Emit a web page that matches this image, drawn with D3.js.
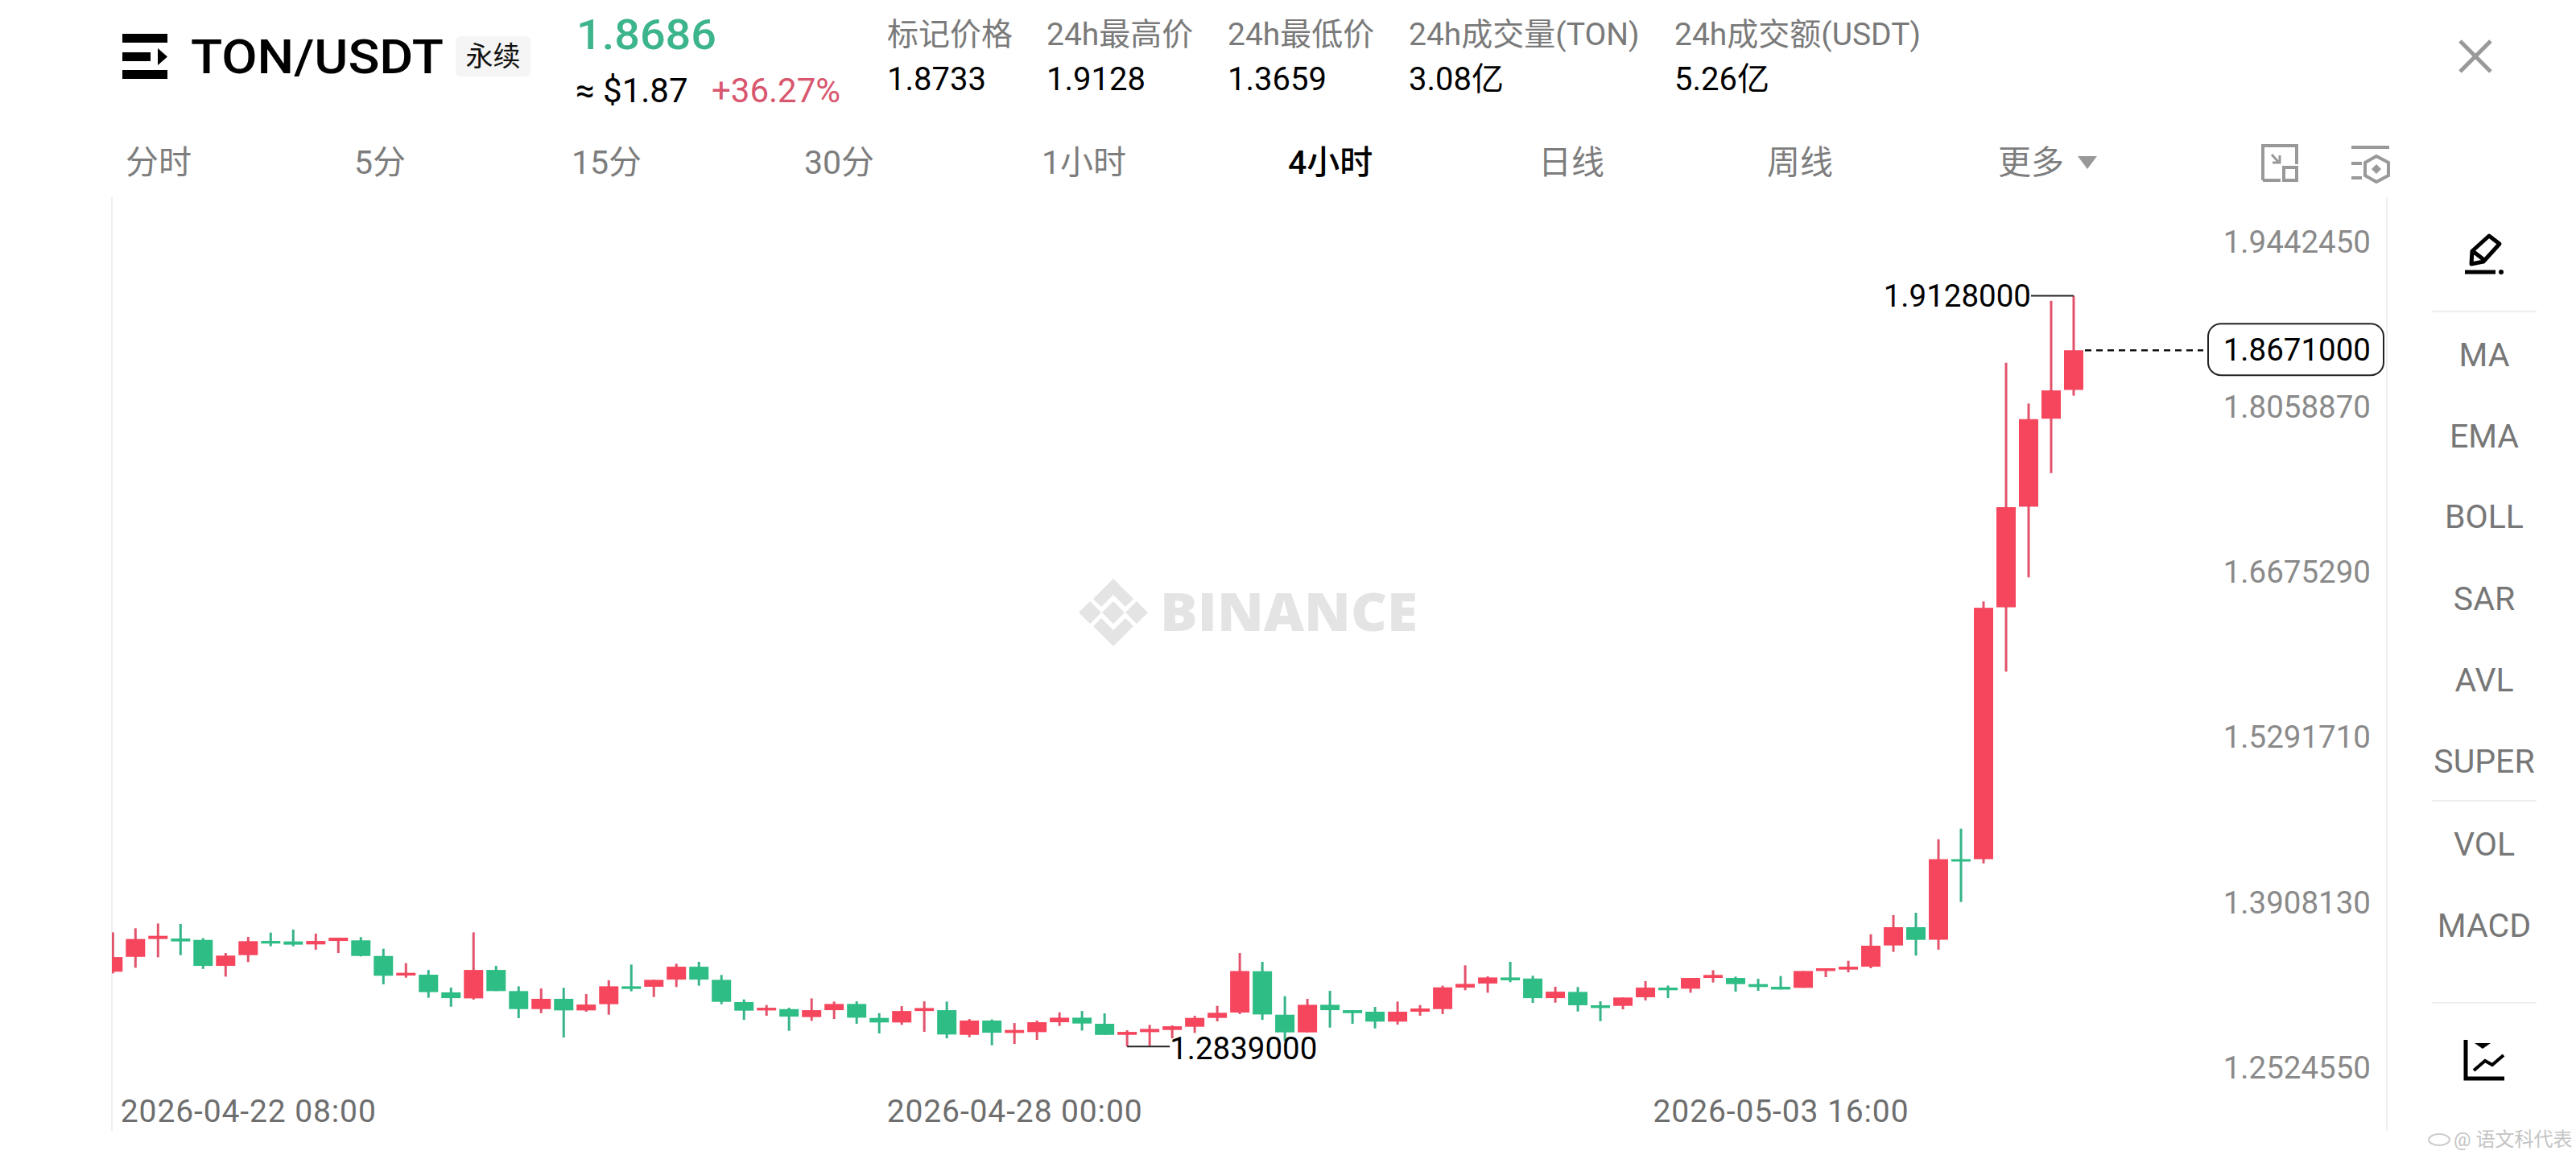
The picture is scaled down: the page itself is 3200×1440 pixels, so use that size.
<!DOCTYPE html>
<html><head><meta charset="utf-8">
<style>
html,body{margin:0;padding:0;background:#fff}
svg{display:block}
text{font-family:Roboto,"Noto Sans CJK SC",sans-serif}
</style>
<script src="https://cdn.jsdelivr.net/npm/d3@7/dist/d3.min.js"></script>
</head><body><div id="c"></div>
<script>
const opens=[1.3465,1.3590,1.3739,1.3743,1.3732,1.3514,1.3604,1.3723,1.3719,1.3694,1.3723,1.3728,1.3597,1.3433,1.3440,1.3292,1.3242,1.3480,1.3303,1.3152,1.3238,1.3141,1.3193,1.3343,1.3339,1.3399,1.3507,1.3397,1.3211,1.3141,1.3152,1.3085,1.3143,1.3195,1.3078,1.3040,1.3136,1.3143,1.2936,1.3056,1.2952,1.2959,1.3042,1.3080,1.3029,1.2936,1.2959,1.2977,1.3004,1.3078,1.3123,1.3469,1.3105,1.2957,1.3188,1.3143,1.3130,1.3047,1.3130,1.3152,1.3332,1.3366,1.3417,1.3408,1.3244,1.3296,1.3184,1.3179,1.3251,1.3332,1.3323,1.3413,1.3413,1.3361,1.3339,1.3330,1.3471,1.3483,1.3507,1.3685,1.3838,1.3733,1.4408,1.4408,1.6518,1.7361,1.8098,1.8339];
const highs=[1.3795,1.3829,1.3869,1.3865,1.3746,1.3622,1.3757,1.3793,1.3818,1.3784,1.3750,1.3755,1.3658,1.3537,1.3480,1.3332,1.3795,1.3514,1.3343,1.3325,1.3330,1.3278,1.3393,1.3525,1.3397,1.3532,1.3548,1.3438,1.3233,1.3186,1.3163,1.3242,1.3215,1.3217,1.3118,1.3177,1.3217,1.3215,1.3069,1.3065,1.3035,1.3056,1.3125,1.3136,1.3116,1.2975,1.3020,1.3015,1.3096,1.3179,1.3622,1.3548,1.3260,1.3238,1.3305,1.3143,1.3170,1.3215,1.3186,1.3348,1.3519,1.3426,1.3548,1.3431,1.3339,1.3337,1.3217,1.3249,1.3386,1.3350,1.3413,1.3478,1.3424,1.3406,1.3429,1.3471,1.3494,1.3557,1.3779,1.3939,1.3959,1.4575,1.4663,1.6567,1.8567,1.8225,1.9085,1.9128];
const lows=[1.3451,1.3498,1.3586,1.3604,1.3489,1.3424,1.3546,1.3678,1.3678,1.3649,1.3622,1.3593,1.3359,1.3415,1.3247,1.3172,1.3231,1.3303,1.3076,1.3118,1.2914,1.3130,1.3105,1.3301,1.3253,1.3337,1.3348,1.3193,1.3062,1.3096,1.2970,1.3053,1.3069,1.3029,1.2948,1.3020,1.2961,1.2907,1.2916,1.2849,1.2860,1.2894,1.3011,1.2972,1.2936,1.2839,1.2847,1.2907,1.2952,1.3049,1.3110,1.3062,1.2885,1.2957,1.2997,1.3029,1.2990,1.3022,1.3096,1.3110,1.3310,1.3289,1.3377,1.3204,1.3206,1.3132,1.3051,1.3150,1.3224,1.3244,1.3289,1.3375,1.3298,1.3305,1.3316,1.3330,1.3420,1.3460,1.3494,1.3631,1.3600,1.3650,1.4049,1.4373,1.5979,1.6769,1.7642,1.8291];
const closes=[1.3588,1.3739,1.3766,1.3719,1.3514,1.3600,1.3721,1.3701,1.3692,1.3723,1.3750,1.3597,1.3431,1.3456,1.3294,1.3244,1.3480,1.3303,1.3152,1.3238,1.3141,1.3190,1.3343,1.3321,1.3397,1.3507,1.3399,1.3213,1.3139,1.3163,1.3089,1.3143,1.3195,1.3080,1.3040,1.3136,1.3161,1.2939,1.3056,1.2954,1.2977,1.3042,1.3080,1.3031,1.2936,1.2961,1.2986,1.3008,1.3078,1.3121,1.3471,1.3107,1.2957,1.3188,1.3143,1.3118,1.3047,1.3130,1.3157,1.3334,1.3363,1.3417,1.3393,1.3244,1.3298,1.3184,1.3161,1.3249,1.3332,1.3310,1.3413,1.3438,1.3361,1.3337,1.3316,1.3471,1.3494,1.3507,1.3683,1.3838,1.3732,1.4408,1.4391,1.6514,1.7357,1.8094,1.8335,1.8671];
const yTickValues=[1.9442450,1.8058870,1.6675290,1.5291710,1.3908130,1.2524550];
const xTickIndex=[0,34,68];
const xTickLabels=["2026-04-22 08:00","2026-04-28 00:00","2026-05-03 16:00"];
const lastPrice=1.8671;
const intervalTabs=["分时","5分","15分","30分","1小时","4小时","日线","周线","更多"];
const statNames=["标记价格","24h最高价","24h最低价","24h成交量(TON)","24h成交额(USDT)"];
const statValues=["1.8733","1.9128","1.3659","3.08亿","5.26亿"];
const indicators=["MA","EMA","BOLL","SAR","AVL","SUPER","VOL","MACD"];

const UP="#f6465d",DOWN="#2ebd85",UPW="#e2536b",DOWNW="#36b38a";
const W=3200,H=1440;
const svg=d3.select("#c").append("svg").attr("width",W).attr("height",H).attr("viewBox",`0 0 ${W} ${H}`);
svg.append("rect").attr("width",W).attr("height",H).attr("fill","#fff");

const x=d3.scaleLinear().domain([0,opens.length-1]).range([140.3,2576]);
const y=d3.scaleLinear().domain([1.805887,1.252455]).range([526,1346.8]);
const plotLeft=139,plotRight=2965,plotTop=245,plotBottom=1405;
const candleW=24,wickW=3;

// frame
[plotLeft,plotRight].forEach(px=>svg.append("line").attr("x1",px).attr("x2",px).attr("y1",plotTop).attr("y2",plotBottom).attr("stroke","#efefef").attr("stroke-width",2));

// watermark
const wm=svg.append("g").attr("transform","translate(1383,761)").attr("fill","#e4e4e4");
wm.append("path").attr("d","M0,-14L14,0L0,14L-14,0Z M-29,-14L-15,0L-29,14L-43,0Z M29,-14L43,0L29,14L15,0Z M0,-42L25,-17L15,-7L0,-22L-15,-7L-25,-17Z M0,42L25,17L15,7L0,22L-15,7L-25,17Z");
svg.append("text").attr("x",1441).attr("y",784).attr("font-size",66).attr("font-weight",800).attr("fill","#e4e4e4")
  .attr("textLength",320).attr("lengthAdjust","spacingAndGlyphs").style("font-family","'Open Sans',sans-serif").text("BINANCE");

// candles
svg.append("clipPath").attr("id","plot").append("rect").attr("x",plotLeft).attr("y",plotTop).attr("width",plotRight-plotLeft).attr("height",plotBottom-plotTop);
const rows=opens.map((o,i)=>({i,o,h:highs[i],l:lows[i],c:closes[i],up:closes[i]>=o}));
const g=svg.append("g").attr("clip-path","url(#plot)");
g.selectAll("line.w").data(rows).join("line").attr("class","w")
  .attr("x1",d=>x(d.i)).attr("x2",d=>x(d.i)).attr("y1",d=>y(d.h)).attr("y2",d=>y(d.l))
  .attr("stroke",d=>d.up?UPW:DOWNW).attr("stroke-width",wickW);
g.selectAll("rect.b").data(rows).join("rect").attr("class","b")
  .attr("x",d=>x(d.i)-candleW/2).attr("width",candleW)
  .attr("y",d=>y(Math.max(d.o,d.c))).attr("height",d=>Math.max(3,Math.abs(y(d.o)-y(d.c))))
  .attr("fill",d=>d.up?UP:DOWN);

// axes
const yAxis=d3.axisRight(y).tickValues(yTickValues).tickFormat(d=>d.toFixed(7)).tickSize(0);
const ay=svg.append("g").attr("transform","translate(2945,0)").call(yAxis);
ay.select(".domain").remove();
ay.selectAll("text").attr("x",0).attr("dominant-baseline","central").attr("text-anchor","end")
  .attr("font-size",38.5).attr("fill","#8a8a8a").attr("dy",null).attr("y",-21).style("font-family",'Roboto,sans-serif');
const xAxis=d3.axisBottom(x).tickValues(xTickIndex).tickFormat((d,i)=>xTickLabels[i]).tickSize(0);
const ax=svg.append("g").attr("transform","translate(0,1394)").call(xAxis);
ax.select(".domain").remove();
ax.selectAll("text").attr("x",9).attr("y",0).attr("dy",null).attr("text-anchor","start")
  .attr("font-size",39).attr("fill","#6e6e6e").attr("textLength",317).attr("lengthAdjust","spacing").style("font-family",'Roboto,sans-serif');

// high / low / last
const hiI=d3.maxIndex(highs),loI=d3.minIndex(lows);
const ann=svg.append("g");
ann.append("line").attr("x1",x(hiI)-53).attr("x2",x(hiI)).attr("y1",y(highs[hiI])).attr("y2",y(highs[hiI])).attr("stroke","#222").attr("stroke-width",2);
ann.append("text").attr("x",x(hiI)-53).attr("y",y(highs[hiI])).attr("dominant-baseline","central").attr("text-anchor","end").attr("font-size",38.5).attr("fill","#000").text(highs[hiI].toFixed(7));
ann.append("line").attr("x1",x(loI)).attr("x2",x(loI)+53).attr("y1",y(lows[loI])).attr("y2",y(lows[loI])).attr("stroke","#222").attr("stroke-width",2);
ann.append("text").attr("x",x(loI)+53).attr("y",y(lows[loI])+2).attr("dominant-baseline","central").attr("font-size",38.5).attr("fill","#000").text(lows[loI].toFixed(7));
ann.append("line").attr("x1",x(opens.length-1)+14).attr("x2",2737).attr("y1",y(lastPrice)).attr("y2",y(lastPrice)).attr("stroke","#111").attr("stroke-width",2.5).attr("stroke-dasharray","8,6");
ann.append("rect").attr("x",2743).attr("y",y(lastPrice)-33).attr("width",218).attr("height",64).attr("rx",16).attr("fill","#fff").attr("stroke","#222").attr("stroke-width",2);
ann.append("text").attr("x",2945).attr("y",y(lastPrice)-1).attr("dominant-baseline","central").attr("text-anchor","end").attr("font-size",38.5).attr("fill","#000").text(lastPrice.toFixed(7));

// header
const hd=svg.append("g");
hd.append("path").attr("fill","#000").attr("d","M152,42H208V53H152Z M152,87H208V98H152Z M152,65H187V76H152Z M196,60L208,70.5L196,81Z");
hd.append("text").attr("x",237).attr("y",91).attr("font-size",60).attr("font-weight",500).attr("fill","#000").attr("textLength",314).attr("lengthAdjust","spacingAndGlyphs").text("TON/USDT");
hd.append("rect").attr("x",566).attr("y",45).attr("width",93).attr("height",50).attr("rx",6).attr("fill","#f5f5f5");
hd.append("text").attr("x",612.5).attr("y",82).attr("text-anchor","middle").attr("font-size",34).attr("fill","#111").text("永续");
hd.append("text").attr("x",716).attr("y",61).attr("font-size",52).attr("font-weight",500).attr("fill","#3cb48c").attr("textLength",174).attr("lengthAdjust","spacingAndGlyphs").text("1.8686");
hd.append("text").attr("x",715).attr("y",127).attr("font-size",42).attr("fill","#000").text("≈ $1.87");
hd.append("text").attr("x",884).attr("y",127).attr("font-size",42).attr("fill","#d8566e").text("+36.27%");
const statX=[1102,1300,1525,1750,2080];
statNames.forEach((t,i)=>{
  hd.append("text").attr("x",statX[i]).attr("y",56).attr("font-size",39).attr("fill","#7a7a7a").text(t);
  hd.append("text").attr("x",statX[i]).attr("y",112).attr("font-size",40).attr("fill","#000").text(statValues[i]);
});
const tabX=[156,440,710,999,1294,1600,1911,2195,2482];
intervalTabs.forEach((t,i)=>{
  hd.append("text").attr("x",tabX[i]).attr("y",216).attr("font-size",41).attr("fill",i===5?"#000":"#7d7d7d").attr("font-weight",i===5?500:400).text(t);
});
hd.append("path").attr("d","M2581,194H2605L2593,210Z").attr("fill","#999");
// toolbar icons
const ic=svg.append("g").attr("fill","none").attr("stroke","#999").attr("stroke-width",4);
ic.append("path").attr("d","M2811,224V181H2853V204 M2811,224H2833");
ic.append("rect").attr("x",2837).attr("y",208).attr("width",16).attr("height",16);
ic.append("path").attr("d","M2822,192L2831,202 M2823,202H2832V193").attr("stroke-width",3);
ic.append("path").attr("d","M2921,183H2968 M2921,203H2934 M2921,221H2934 M2952,194L2967,202V218L2952,226L2938,218V202Z");
ic.append("path").attr("d","M2952,204L2958,210L2952,216L2946,210Z").attr("fill","#999").attr("stroke","none");
ic.append("path").attr("d","M3056,51L3094,89 M3094,51L3056,89").attr("stroke-width",5);
// side panel
const sp=svg.append("g");
const seps=[387,995,1246];
seps.forEach(s=>sp.append("line").attr("x1",3021).attr("x2",3151).attr("y1",s).attr("y2",s).attr("stroke","#eeeeee").attr("stroke-width",2));
const indY=[441,542,642,744,845,946,1049,1150];
indicators.forEach((t,i)=>sp.append("text").attr("x",3086).attr("y",indY[i]).attr("dominant-baseline","central").attr("text-anchor","middle").attr("font-size",41).attr("fill","#777").text(t));
sp.append("path").attr("d","M3070,328L3071,312L3092,293L3105,303L3085,325Z M3073,313L3086,323").attr("fill","none").attr("stroke","#000").attr("stroke-width",5).attr("stroke-linejoin","round");
sp.append("path").attr("d","M3062,338H3100").attr("stroke","#000").attr("stroke-width",5);
sp.append("circle").attr("cx",3107).attr("cy",338).attr("r",3).attr("fill","#000");
sp.append("path").attr("d","M3063,1292V1340H3111").attr("fill","none").attr("stroke","#000").attr("stroke-width",5);
sp.append("path").attr("d","M3073,1330L3087,1318L3096,1323L3110,1311").attr("fill","none").attr("stroke","#000").attr("stroke-width",4);
sp.append("path").attr("d","M3074,1296H3094L3084,1303Z").attr("fill","#000");
// credit
const cr=svg.append("g");
cr.append("ellipse").attr("cx",3030).attr("cy",1416).attr("rx",13).attr("ry",7).attr("fill","none").attr("stroke","#ccc").attr("stroke-width",2);
cr.append("text").attr("x",3048).attr("y",1424).attr("font-size",24).attr("fill","#c4c4c4").text("@ 语文科代表");
</script></body></html>
